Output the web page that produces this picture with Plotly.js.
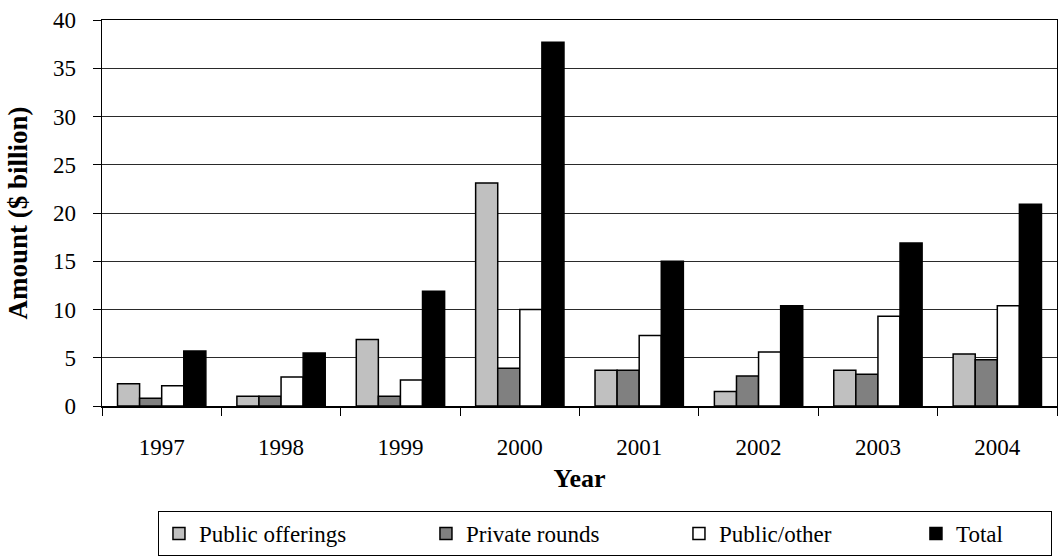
<!DOCTYPE html>
<html>
<head>
<meta charset="utf-8">
<script src="https://cdn.plot.ly/plotly-3.0.1.min.js"></script>
<style>
  html, body { margin: 0; padding: 0; background: #fff; }
  #chart { width: 1058px; height: 558px; }
</style>
</head>
<body>
<div id="chart"></div>
<script>
// Financing amounts by year, in $ billion
const years = ['1997', '1998', '1999', '2000', '2001', '2002', '2003', '2004'];
const publicOfferings = [2.3, 1.0, 6.9, 23.1, 3.7, 1.5, 3.7, 5.4];
const privateRounds   = [0.8, 1.0, 1.0, 3.9, 3.7, 3.1, 3.3, 4.8];
const publicOther     = [2.1, 3.0, 2.7, 10.0, 7.3, 5.6, 9.3, 10.4];
const totals          = [5.7, 5.5, 11.9, 37.7, 15.0, 10.4, 16.9, 20.9];

const seriesNames = ['Public offerings', 'Private rounds', 'Public/other', 'Total'];
const seriesValues = [publicOfferings, privateRounds, publicOther, totals];
const seriesColors = ['#c0c0c0', '#808080', '#ffffff', '#000000'];
// width reserved for each legend entry's label (px)
const legendWidths = [222, 208, 192, 90];

const FONT = "'Liberation Serif', 'DejaVu Serif', serif";

const traces = seriesNames.map((name, i) => ({
  type: 'bar',
  name: name,
  x: years,
  y: seriesValues[i],
  legendwidth: legendWidths[i],
  marker: { color: seriesColors[i], line: { color: '#000', width: 1.5 } },
  hoverinfo: 'x+y+name'
}));

const layout = {
  width: 1058,
  height: 558,
  margin: { l: 102, r: 1, t: 20, b: 152 },
  paper_bgcolor: '#fff',
  plot_bgcolor: '#fff',
  font: { family: FONT, size: 23, color: '#000' },
  barmode: 'group',
  bargap: 0.26,
  bargroupgap: 0,
  showlegend: true,
  legend: {
    orientation: 'h',
    x: 0.0586,
    xanchor: 'left',
    y: -0.272,
    yanchor: 'top',
    bordercolor: '#000',
    borderwidth: 1,
    itemwidth: 30,
    entrywidth: 180,
    entrywidthmode: 'pixels',
    font: { family: FONT, size: 23, color: '#000' },
    traceorder: 'normal'
  },
  xaxis: {
    type: 'category',
    showline: true,
    linecolor: '#000',
    linewidth: 1.5,
    mirror: true,
    ticks: 'outside',
    tickson: 'boundaries',
    ticklen: 8,
    tickcolor: '#000',
    tickwidth: 1,
    ticklabelstandoff: 20,
    tickfont: { family: FONT, size: 23 },
    title: { text: '<b>Year</b>', font: { family: FONT, size: 26 }, standoff: 9 }
  },
  yaxis: {
    range: [0, 40],
    dtick: 5,
    showline: true,
    linecolor: '#000',
    linewidth: 1.5,
    mirror: true,
    showgrid: true,
    gridcolor: '#2a2a2a',
    gridwidth: 1,
    zeroline: false,
    ticks: 'outside',
    ticklen: 8,
    tickcolor: '#000',
    tickwidth: 1,
    ticklabelstandoff: 12,
    tickfont: { family: FONT, size: 23 },
    title: { text: '<b>Amount ($ billion)</b>', font: { family: FONT, size: 27 }, standoff: 17 }
  }
};

Plotly.newPlot('chart', traces, layout, { displayModeBar: false, staticPlot: true });
</script>
</body>
</html>
